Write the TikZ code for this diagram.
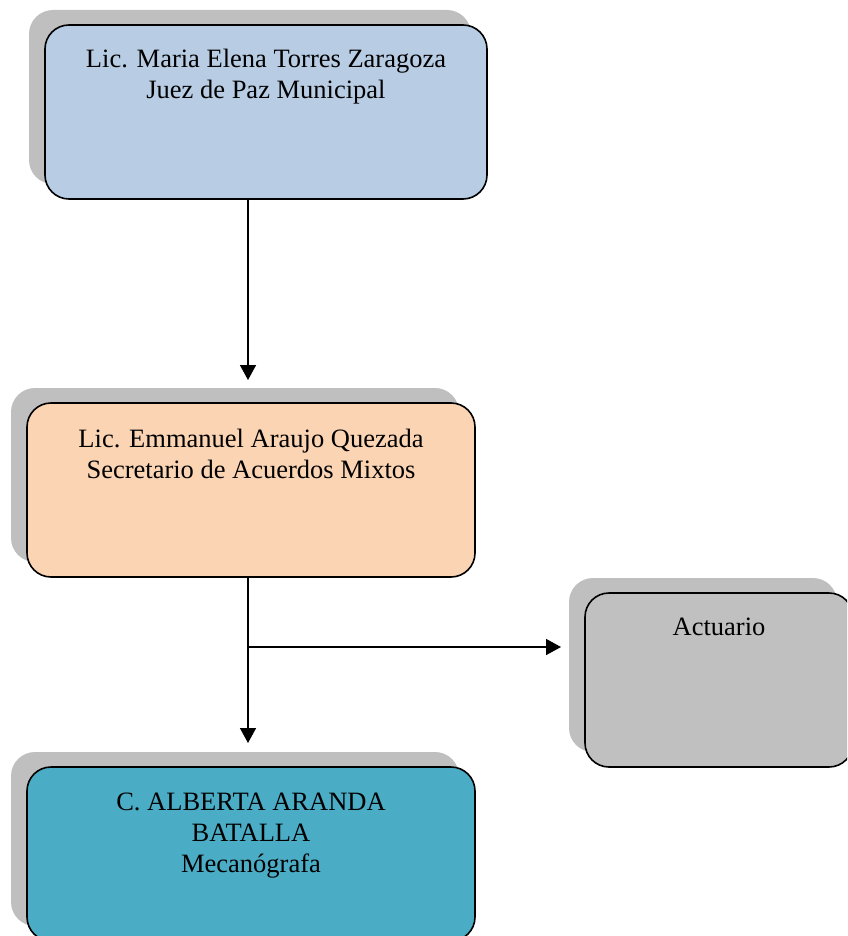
\documentclass[tikz,border=0pt]{standalone}
\usepackage{fontspec}
\setmainfont{Liberation Serif}
\usetikzlibrary{arrows.meta,shadows}
\definecolor{azul}{HTML}{B8CCE4}
\definecolor{durazno}{HTML}{FBD4B4}
\definecolor{gris}{HTML}{C0C0C0}
\definecolor{turquesa}{HTML}{4BACC6}
\definecolor{sombra}{HTML}{BFBFBF}
\begin{document}
\begin{tikzpicture}[x=1pt,y=-1pt]
%%%%%%%%%%%%%%%%%%%%%%%%%%%%%%%%%%%%%%%%%%%%%%%%%%%%%%%%%%%%%%
%puestos
\tikzstyle{puesto}=[rectangle,rounded corners=24pt,draw=black,line width=1.6pt,inner sep=0pt,minimum height=174pt,general shadow={fill=sombra,draw=none,shadow xshift=-16pt,shadow yshift=15pt}]
\tikzstyle{texto}=[anchor=base,align=center,inner sep=0pt,font=\fontsize{26.5}{31}\selectfont]
\useasboundingbox (0,0) rectangle (847,936);
\clip (0,0) rectangle (847,936);
%nodes
\node[puesto,fill=azul,minimum width=442pt] (juez) at (266,112) {};
\node[puesto,fill=durazno,minimum width=448pt] (secre) at (251,490) {};
\node[puesto,fill=gris,minimum width=268pt] (actu) at (719,680) {};
\node[puesto,fill=turquesa,minimum width=448pt] (meca) at (251,854) {};
%%textos (base = last line)
\node[texto] (juez-t) at (266,99) {Lic. Maria Elena Torres Zaragoza\\Juez de Paz Municipal};
\node[texto] (secre-t) at (251,478) {Lic. Emmanuel Araujo Quezada\\Secretario de Acuerdos Mixtos};
\node[texto] (actu-t) at (719,635) {Actuario};
\node[texto] (meca-t) at (251,872) {C. ALBERTA ARANDA\\BATALLA\\Mecanógrafa};
%puntas
\coordinate (p1) at (248,380);
\coordinate (p2) at (248,743);
\coordinate (rama) at (248,647);
\coordinate (p3) at (561,647);
%%%%%%%%%%%%%%%%%%%%%%%%%%%%%%%%%%%%%%%%%%%%%%%%%%%%%%%%%%%%%%
%ARROWS
\draw[->,>={Triangle[length=15pt,width=16pt]},line width=1.6pt] (juez.south -| p1) -- (p1);
\draw[->,>={Triangle[length=15pt,width=16pt]},line width=1.6pt] (secre.south -| p2) -- (p2);
\draw[->,>={Triangle[length=15pt,width=16pt]},line width=1.6pt] (rama) -- (p3);
\end{tikzpicture}
\end{document}
